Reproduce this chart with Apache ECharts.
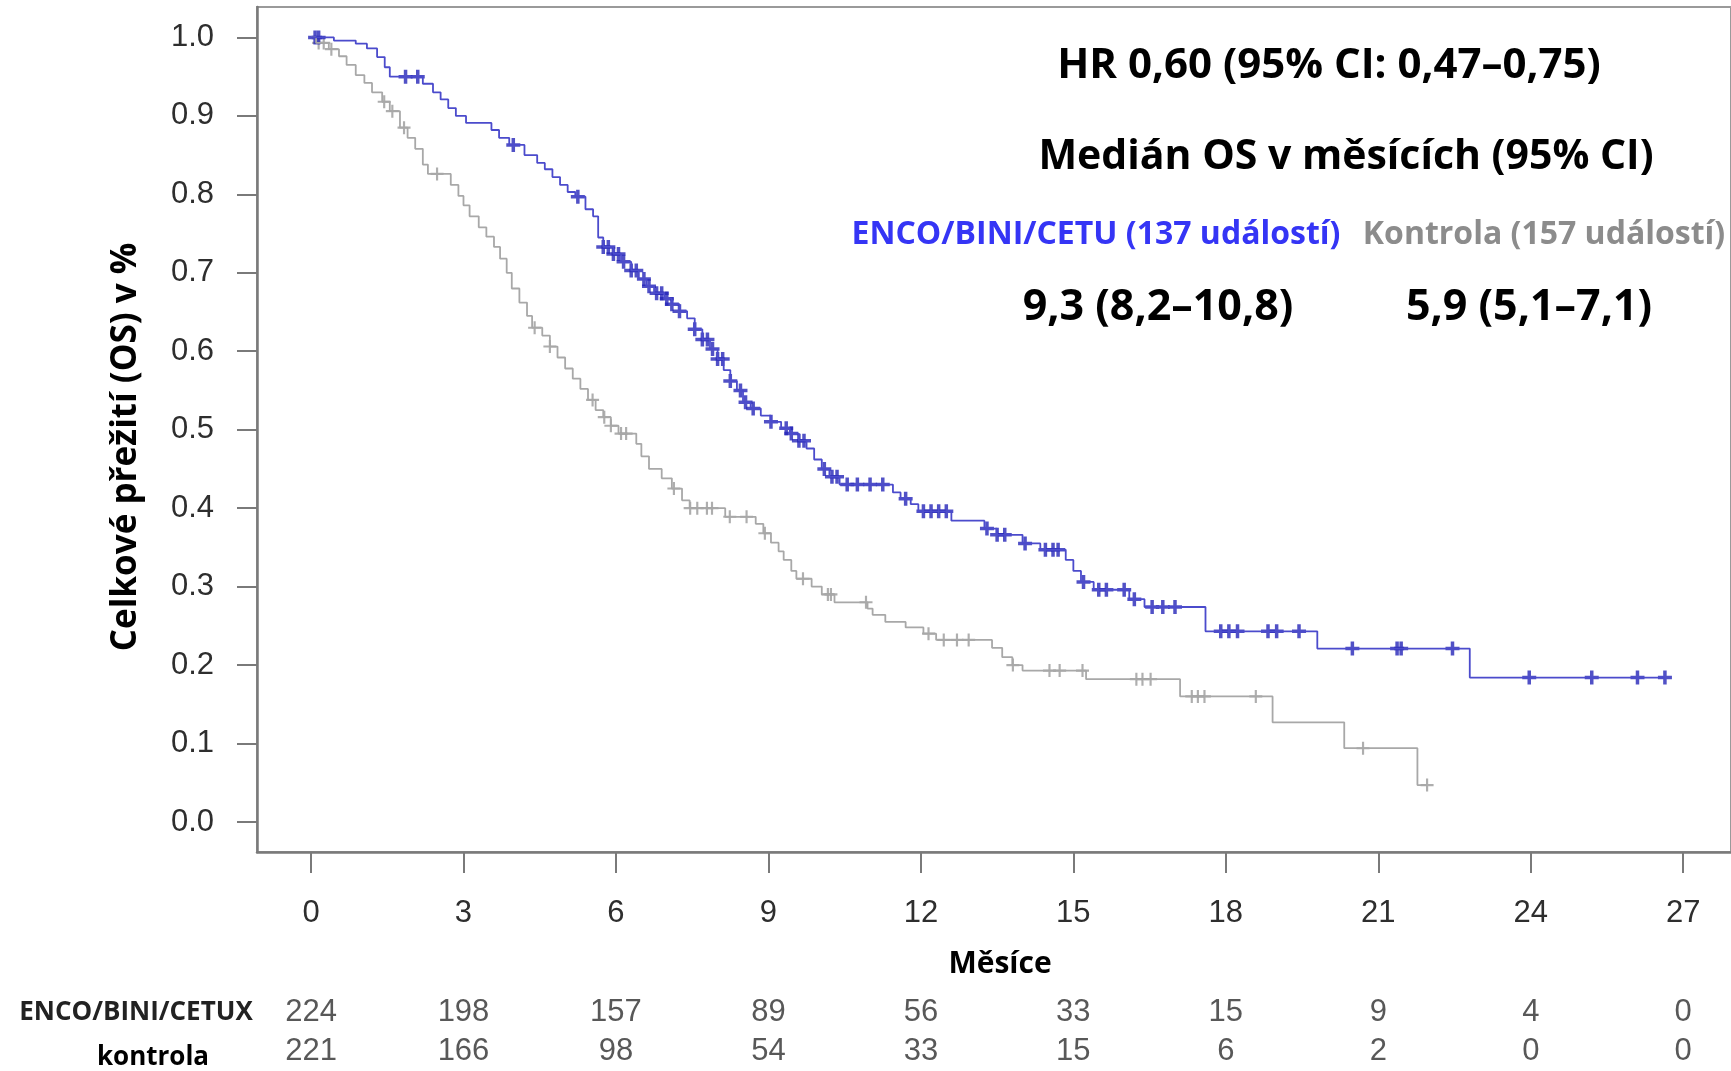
<!DOCTYPE html>
<html>
<head>
<meta charset="utf-8">
<script src="https://cdn.jsdelivr.net/npm/echarts@6/dist/echarts.min.js"></script>
<style>
  html, body { margin: 0; padding: 0; background: #fff; }
  #chart { width: 1731px; height: 1071px; }
</style>
</head>
<body>
<div id="chart"></div>
<script>
// Kaplan-Meier steps (months, survival)
const blueTime = [0,0.45,0.88,1.1,1.3,1.45,1.55,2.2,2.4,2.55,2.7,2.85,3.05,3.55,3.7,3.9,4.2,4.45,4.6,4.75,4.9,5.05,5.2,5.4,5.55,5.65,5.75,5.95,6.1,6.3,6.45,6.6,6.75,6.95,7.1,7.25,7.4,7.55,7.7,7.85,8.0,8.12,8.25,8.38,8.5,8.65,8.85,9.05,9.25,9.42,9.6,9.75,9.9,10.05,10.2,10.4,11.45,11.6,11.8,11.95,12.6,13.25,13.5,14.0,14.35,14.85,15.0,15.15,15.4,16.1,16.4,17.6,19.8,22.8,26.64];
const blueSurv = [1.0,0.996,0.992,0.986,0.975,0.962,0.950,0.941,0.930,0.921,0.910,0.900,0.891,0.882,0.872,0.863,0.850,0.840,0.832,0.822,0.812,0.803,0.797,0.781,0.772,0.745,0.733,0.724,0.714,0.703,0.692,0.683,0.674,0.667,0.660,0.651,0.642,0.628,0.615,0.603,0.590,0.576,0.562,0.550,0.535,0.527,0.518,0.510,0.502,0.495,0.486,0.476,0.462,0.450,0.440,0.430,0.420,0.412,0.405,0.396,0.384,0.374,0.366,0.355,0.347,0.334,0.320,0.306,0.296,0.284,0.274,0.243,0.221,0.184,0.184];
const blueCensor = [0.08,0.15,1.86,2.1,3.98,5.25,5.75,5.85,5.95,6.05,6.15,6.3,6.4,6.55,6.65,6.8,6.9,7.0,7.1,7.25,7.55,7.7,7.8,7.9,8.0,8.1,8.25,8.45,8.55,8.7,9.05,9.35,9.45,9.6,9.7,10.1,10.25,10.35,10.55,10.75,11.0,11.25,11.7,12.05,12.2,12.35,12.5,13.3,13.5,13.65,14.05,14.45,14.6,14.7,15.2,15.5,15.65,16.0,16.2,16.55,16.76,17.0,17.9,18.06,18.23,18.83,19.0,19.44,20.49,21.37,21.45,22.46,23.97,25.2,26.1,26.64];

const grayTime = [0,0.1,0.35,0.55,0.7,0.88,1.05,1.2,1.4,1.55,1.75,1.9,2.05,2.2,2.3,2.75,2.9,3.0,3.12,3.3,3.45,3.6,3.72,3.85,3.95,4.1,4.25,4.35,4.55,4.7,4.85,5.0,5.15,5.3,5.45,5.6,5.75,5.9,6.05,6.4,6.5,6.65,6.9,7.1,7.3,7.45,8.15,8.75,8.9,9.05,9.2,9.3,9.45,9.55,9.85,10.05,10.3,10.95,11.05,11.3,11.7,12.05,12.3,13.4,13.6,13.8,14.0,15.25,17.1,18.92,20.33,21.77,21.96];
const graySurv = [1.0,0.993,0.985,0.976,0.965,0.952,0.942,0.930,0.918,0.906,0.885,0.872,0.858,0.838,0.826,0.812,0.798,0.786,0.772,0.758,0.746,0.733,0.718,0.700,0.680,0.662,0.645,0.630,0.620,0.606,0.592,0.578,0.565,0.552,0.538,0.525,0.516,0.505,0.495,0.482,0.466,0.450,0.438,0.425,0.410,0.400,0.389,0.380,0.368,0.356,0.345,0.334,0.320,0.310,0.300,0.290,0.280,0.272,0.264,0.255,0.248,0.240,0.232,0.222,0.210,0.200,0.193,0.182,0.160,0.127,0.094,0.047,0.047];
const grayCensor = [0.15,0.25,0.4,1.44,1.6,1.83,2.48,4.4,4.7,5.54,5.77,5.9,6.1,6.2,7.14,7.46,7.6,7.79,7.89,8.24,8.57,8.93,9.68,10.17,10.23,10.92,12.15,12.45,12.71,12.94,13.81,14.53,14.73,15.18,16.24,16.36,16.52,17.33,17.45,17.58,18.59,20.7,21.96];

// axis ticks
const xTicks = [0,3,6,9,12,15,18,21,24,27];
const yTicks = [0,0.1,0.2,0.3,0.4,0.5,0.6,0.7,0.8,0.9,1.0];

// number at risk
const riskTimes = [0,3,6,9,12,15,18,21,24,27];
const riskEnco = [224,198,157,89,56,33,15,9,4,0];
const riskCtrl = [221,166,98,54,33,15,6,2,0,0];

const X_MIN = -1.063, X_MAX = 27.94;
const NUM_FONT = '"Liberation Sans", Arial, sans-serif';
const TXT_FONT = '"Open Sans", sans-serif';
const PLUS_THIN = 'path://M5,0h2v5h5v2h-5v5h-2v-5h-5v-2h5z';
const PLUS_BOLD = 'path://M4.5,0h3v4.5h4.5v3h-4.5v4.5h-3v-4.5h-4.5v-3h4.5z';

const stepPoints = (t, s) => t.map((v, i) => [v, s[i]]);
// survival level of the curve at time tc (last step at or before it)
const levelAt = (t, s, tc) => {
    let k = 0;
    for (let i = 0; i < t.length; i++) { if (t[i] <= tc) k = i; }
    return s[k];
};
const censorPoints = (t, s, c) => c.map(tc => [tc, levelAt(t, s, tc)]);

const chart = echarts.init(document.getElementById('chart'));

const option = {
    animation: false,
    backgroundColor: '#fff',
    grid: [
        { left: 257, right: -10, top: 7, bottom: 219, show: true, borderColor: '#9a9a9a', borderWidth: 2, backgroundColor: '#fff' },
        { left: 257, right: -10, top: 993, height: 78 }
    ],
    xAxis: [
        {
            gridIndex: 0, type: 'value', min: X_MIN, max: X_MAX,
            axisLine: { show: true, onZero: false, lineStyle: { color: '#7a7a7a', width: 2.5 } },
            axisTick: { show: true, customValues: xTicks, length: 21, lineStyle: { color: '#7a7a7a', width: 2 } },
            axisLabel: { customValues: xTicks, margin: 46, fontSize: 31, color: '#2e2e2e', fontFamily: NUM_FONT },
            splitLine: { show: false }
        },
        { gridIndex: 1, type: 'value', min: X_MIN, max: X_MAX, show: false }
    ],
    yAxis: [
        {
            gridIndex: 0, type: 'value', min: -0.0383, max: 1.0388,
            axisLine: { show: true, onZero: false, lineStyle: { color: '#7a7a7a', width: 2.5 } },
            axisTick: { show: true, customValues: yTicks, length: 20, lineStyle: { color: '#7a7a7a', width: 2 } },
            axisLabel: { customValues: yTicks, margin: 43, fontSize: 31, color: '#2e2e2e', fontFamily: NUM_FONT,
                formatter: v => v.toFixed(1) },
            splitLine: { show: false }
        },
        { gridIndex: 1, type: 'category', data: ['kontrola', 'ENCO/BINI/CETUX'], show: false }
    ],
    series: [
        {
            name: 'Kontrola', type: 'line', step: 'end', showSymbol: false,
            data: stepPoints(grayTime, graySurv),
            lineStyle: { color: '#a8a8a8', width: 1.8 }
        },
        {
            name: 'Kontrola cenzura', type: 'scatter', symbol: PLUS_THIN, symbolSize: 13,
            data: censorPoints(grayTime, graySurv, grayCensor),
            itemStyle: { color: '#9a9a9a' }
        },
        {
            name: 'ENCO/BINI/CETU', type: 'line', step: 'end', showSymbol: false,
            data: stepPoints(blueTime, blueSurv),
            lineStyle: { color: '#4b4bcc', width: 1.8 }
        },
        {
            name: 'ENCO/BINI/CETU cenzura', type: 'scatter', symbol: PLUS_BOLD, symbolSize: 14,
            data: censorPoints(blueTime, blueSurv, blueCensor),
            itemStyle: { color: '#2626b8' }
        },
        {
            name: 'riziko ENCO', type: 'scatter', xAxisIndex: 1, yAxisIndex: 1, symbolSize: 1,
            data: riskTimes.map((t, i) => [t, 1, riskEnco[i]]),
            itemStyle: { color: 'transparent' },
            label: { show: true, position: 'inside', formatter: p => p.value[2],
                fontSize: 31, color: '#2e2e2e', fontFamily: NUM_FONT }
        },
        {
            name: 'riziko kontrola', type: 'scatter', xAxisIndex: 1, yAxisIndex: 1, symbolSize: 1,
            data: riskTimes.map((t, i) => [t, 0, riskCtrl[i]]),
            itemStyle: { color: 'transparent' },
            label: { show: true, position: 'inside', formatter: p => p.value[2],
                fontSize: 31, color: '#2e2e2e', fontFamily: NUM_FONT }
        }
    ],
    graphic: [
        { type: 'text', x: 126, y: 447, rotation: Math.PI / 2,
          style: { text: 'Celkové přežití (OS) v %', font: 'bold 35px ' + TXT_FONT, fill: '#000',
                   textAlign: 'center', textVerticalAlign: 'middle' } },
        { type: 'text', x: 1000, y: 964,
          style: { text: 'Měsíce', font: 'bold 30px ' + TXT_FONT, fill: '#000',
                   textAlign: 'center', textVerticalAlign: 'middle' } },
        { type: 'text', x: 1329, y: 66,
          style: { text: 'HR 0,60 (95% CI: 0,47–0,75)', font: 'bold 42px ' + TXT_FONT, fill: '#000',
                   textAlign: 'center', textVerticalAlign: 'middle' } },
        { type: 'text', x: 1346, y: 157,
          style: { text: 'Medián OS v měsících (95% CI)', font: 'bold 41px ' + TXT_FONT, fill: '#000',
                   textAlign: 'center', textVerticalAlign: 'middle' } },
        { type: 'text', x: 1096, y: 235,
          style: { text: 'ENCO/BINI/CETU (137 událostí)', font: 'bold 32px ' + TXT_FONT, fill: '#3535f5',
                   textAlign: 'center', textVerticalAlign: 'middle' } },
        { type: 'text', x: 1544, y: 235,
          style: { text: 'Kontrola (157 událostí)', font: 'bold 32px ' + TXT_FONT, fill: '#8c8c8c',
                   textAlign: 'center', textVerticalAlign: 'middle' } },
        { type: 'text', x: 1158, y: 308,
          style: { text: '9,3 (8,2–10,8)', font: 'bold 43px ' + TXT_FONT, fill: '#000',
                   textAlign: 'center', textVerticalAlign: 'middle' } },
        { type: 'text', x: 1529, y: 308,
          style: { text: '5,9 (5,1–7,1)', font: 'bold 43px ' + TXT_FONT, fill: '#000',
                   textAlign: 'center', textVerticalAlign: 'middle' } },
        { type: 'text', x: 136, y: 1013,
          style: { text: 'ENCO/BINI/CETUX', font: 'bold 26px ' + TXT_FONT, fill: '#222',
                   textAlign: 'center', textVerticalAlign: 'middle' } },
        { type: 'text', x: 153, y: 1058,
          style: { text: 'kontrola', font: 'bold 26px ' + TXT_FONT, fill: '#000',
                   textAlign: 'center', textVerticalAlign: 'middle' } }
    ]
};

chart.setOption(option);
</script>
</body>
</html>
